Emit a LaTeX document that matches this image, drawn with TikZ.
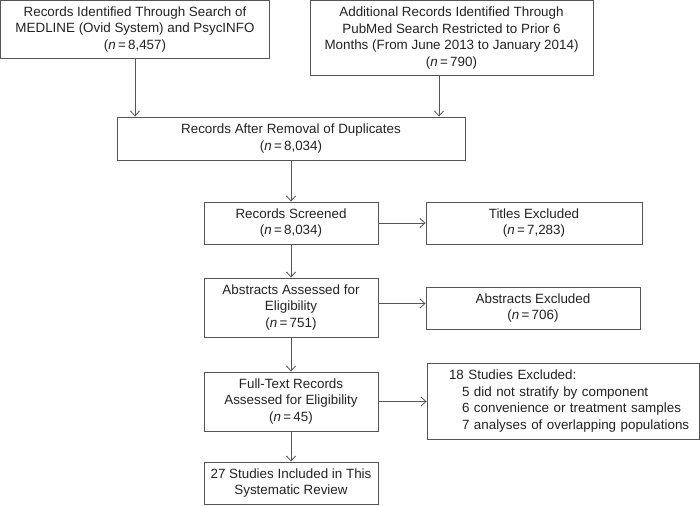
\documentclass[tikz,border=0pt]{standalone}
\usepackage{fontspec}
\setmainfont{Liberation Sans}
\usetikzlibrary{arrows.meta}
\definecolor{linecol}{HTML}{555555}
\definecolor{txtcol}{HTML}{222222}
\tikzset{
  box/.style={draw=linecol, line width=0.9pt, inner sep=0pt, align=center,
    text=txtcol, font=\fontsize{13.4pt}{16.8pt}\selectfont},
  arr/.style={draw=linecol, line width=0.9pt,
    -{Straight Barb[length=5pt,width=9pt,line width=0.8pt]}}
}
\newcommand{\nn}[1]{(\textit{n}\,=\,#1)}
\begin{document}
\begin{tikzpicture}[x=1pt,y=-1pt]
\useasboundingbox (0,0) rectangle (700,505);
\node[box, minimum width=269pt, minimum height=58pt] (b1) at (135,29.5)
  {Records Identified Through Search of\\MEDLINE (Ovid System) and PsycINFO\\\nn{8,457}};
\node[box, minimum width=283pt, minimum height=75pt] (b2) at (451.5,38)
  {Additional Records Identified Through\\PubMed Search Restricted to Prior 6\\Months (From June 2013 to January 2014)\\\nn{790}};
\node[box, minimum width=348pt, minimum height=43pt] (b3) at (291,138.5)
  {Records After Removal of Duplicates\\\nn{8,034}};
\node[box, minimum width=174pt, minimum height=42pt] (b4) at (291,223)
  {Records Screened\\\nn{8,034}};
\node[box, minimum width=216pt, minimum height=42pt] (b5) at (534,223)
  {Titles Excluded\\\nn{7,283}};
\node[box, minimum width=174pt, minimum height=59pt] (b6) at (291,307.5)
  {Abstracts Assessed for\\Eligibility\\\nn{751}};
\node[box, minimum width=214pt, minimum height=42pt] (b7) at (533,308)
  {Abstracts Excluded\\\nn{706}};
\node[box, minimum width=174pt, minimum height=59pt] (b8) at (291,401.5)
  {Full-Text Records\\Assessed for Eligibility\\\nn{45}};
\node[box, minimum width=272pt, minimum height=76pt, align=left, text width=266pt] (b9) at (563,401)
  {\hspace*{19pt}18 Studies Excluded:\\
   \hspace*{32pt}\mbox{5 did not stratify by component}\\
   \hspace*{32pt}\mbox{6 convenience or treatment samples}\\
   \hspace*{32pt}\mbox{7 analyses of overlapping populations}};
\node[box, minimum width=174pt, minimum height=42pt] (b10) at (291,483)
  {27 Studies Included in This\\Systematic Review};
\draw[arr] (b1.south) -- (b1.south |- b3.north);
\draw[arr] ([xshift=-12.5pt]b2.south) -- ([xshift=-12.5pt]b2.south |- b3.north);
\draw[arr] (b3.south) -- (b4.north);
\draw[arr] (b4.east) -- (b5.west);
\draw[arr] (b4.south) -- (b6.north);
\draw[arr] ([yshift=4pt]b6.east) -- ([yshift=4pt]b6.east -| b7.west);
\draw[arr] (b6.south) -- (b8.north);
\draw[arr] (b8.east) -- (b8.east -| b9.west);
\draw[arr] (b8.south) -- (b10.north);
\end{tikzpicture}
\end{document}
